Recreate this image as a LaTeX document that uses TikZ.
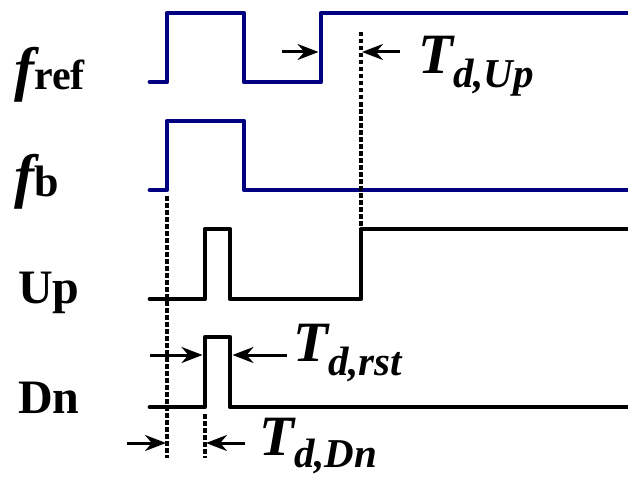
\documentclass[tikz,border=0pt]{standalone}
\usepackage{fontspec}
\setmainfont{Liberation Serif}
\usetikzlibrary{positioning, arrows.meta}

\definecolor{sigblue}{RGB}{0,0,128}

\newcommand{\bigf}{{\fontsize{60}{60}\selectfont\bfseries\itshape f}}
\newcommand{\delayT}[2][14pt]{{\fontsize{57}{57}\selectfont\bfseries\itshape T}\raisebox{-#1}{\fontsize{41}{41}\selectfont\bfseries\itshape #2}}

\begin{document}
\begin{tikzpicture}[
    x=1pt, y=-1pt,          % ピクセル座標（y は下向き）
    >={Stealth[length=21pt, width=16pt]},
    wave/.style={line width=4.8pt, line join=round, line cap=round},
    guide/.style={line width=3.5pt, dash pattern=on 4.5pt off 2.5pt},
    delay/.style={line width=3pt, ->},
    sig/.style={inner sep=0pt, anchor=base west, font=\fontsize{48}{48}\selectfont\bfseries},
    tlabel/.style={inner sep=0pt, anchor=base west}
]
    \useasboundingbox (0,0) rectangle (628,476);

    % --- 1. 信号名 ---
    \node [sig] (fref) at (14,89) {\bigf{\fontsize{42}{42}\selectfont ref}};
    \node [sig] (fb)   at (14,196) {\bigf{\fontsize{44}{44}\selectfont b}};
    \node [sig] (up)   at (18,303) {Up};
    \node [sig] (dn)   at (18,413) {Dn};

    % --- 2. 波形 ---
    \draw [wave, sigblue] (150,82) -- (167,82) -- (167,13) -- (244,13)
        -- (244,82) -- (321,82) -- (321,13) -- (630,13);
    \draw [wave, sigblue] (150,190) -- (167,190) -- (167,121) -- (244,121)
        -- (244,190) -- (630,190);
    \draw [wave] (150,299) -- (205,299) -- (205,229) -- (230,229)
        -- (230,299) -- (361,299) -- (361,229) -- (630,229);
    \draw [wave] (150,407) -- (205,407) -- (205,337) -- (230,337)
        -- (230,407) -- (630,407);

    % --- 3. 補助線（点線） ---
    \draw [guide] (167,196) -- (167,458);
    \draw [guide] (361,32) -- (361,226);
    \draw [guide] (205,414) -- (205,458);

    % --- 4. 遅延の矢印 ---
    \coordinate (refrise) at (318.5,52);
    \coordinate (uprise)  at (362,52);
    \draw [delay] (282,52) -- (refrise);
    \draw [delay] (400,52) -- (uprise);
    \node [tlabel] (tup) at (418,74) {\delayT{d,Up}};

    \coordinate (dnrise) at (202.5,355);
    \coordinate (dnfall) at (232.5,355);
    \draw [delay] (150,355) -- (dnrise);
    \draw [delay] (287,355) -- (dnfall);
    \node [tlabel] (trst) at (293,361) {\delayT{d,rst}};

    \coordinate (fbedge) at (166,443);
    \coordinate (dnedge) at (206,443);
    \draw [delay] (127,443) -- (fbedge);
    \draw [delay] (245,443) -- (dnedge);
    \node [tlabel] (tdn) at (259,455) {\delayT[12pt]{d,Dn}};

\end{tikzpicture}
\end{document}
